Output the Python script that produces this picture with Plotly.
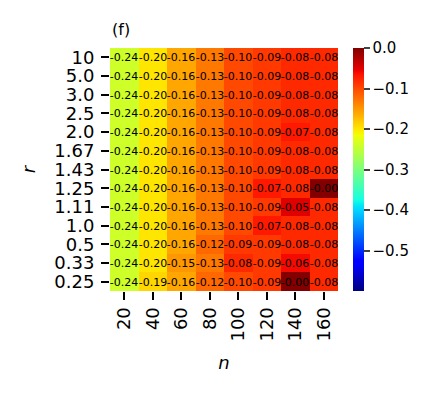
import numpy as np
import plotly.graph_objects as go

# heatmap data, rows listed top to bottom
n_values = ['20', '40', '60', '80', '100', '120', '140', '160']
r_labels = ['10', '5.0', '3.0', '2.5', '2.0', '1.67', '1.43', '1.25', '1.11', '1.0', '0.5', '0.33', '0.25']

row_10 = [-0.24, -0.20, -0.16, -0.13, -0.10, -0.09, -0.08, -0.08]
row_5 = [-0.24, -0.20, -0.16, -0.13, -0.10, -0.09, -0.08, -0.08]
row_3 = [-0.24, -0.20, -0.16, -0.13, -0.10, -0.09, -0.08, -0.08]
row_2_5 = [-0.24, -0.20, -0.16, -0.13, -0.10, -0.09, -0.08, -0.08]
row_2 = [-0.24, -0.20, -0.16, -0.13, -0.10, -0.09, -0.07, -0.08]
row_1_67 = [-0.24, -0.20, -0.16, -0.13, -0.10, -0.09, -0.08, -0.08]
row_1_43 = [-0.24, -0.20, -0.16, -0.13, -0.10, -0.09, -0.08, -0.08]
row_1_25 = [-0.24, -0.20, -0.16, -0.13, -0.10, -0.07, -0.08, -0.002]
row_1_11 = [-0.24, -0.20, -0.16, -0.13, -0.10, -0.09, -0.05, -0.08]
row_1 = [-0.24, -0.20, -0.16, -0.13, -0.10, -0.07, -0.08, -0.08]
row_0_5 = [-0.24, -0.20, -0.16, -0.12, -0.09, -0.09, -0.08, -0.08]
row_0_33 = [-0.24, -0.20, -0.15, -0.13, -0.08, -0.09, -0.06, -0.08]
row_0_25 = [-0.24, -0.19, -0.16, -0.12, -0.10, -0.09, -0.002, -0.08]

z = [row_10, row_5, row_3, row_2_5, row_2, row_1_67, row_1_43,
     row_1_25, row_1_11, row_1, row_0_5, row_0_33, row_0_25]
labels = [[f"{v:.2f}" for v in row] for row in z]

zmin, zmax = -0.6, 0.0
cbar_ticks = [0.0, -0.1, -0.2, -0.3, -0.4, -0.5]

fontFamily = 'DejaVu Sans'
tickSize = 18


# matplotlib style jet colormap
def jet(t):
    red = [(0, 0), (0.35, 0), (0.66, 1), (0.89, 1), (1, 0.5)]
    green = [(0, 0), (0.125, 0), (0.375, 1), (0.64, 1), (0.91, 0), (1, 0)]
    blue = [(0, 0.5), (0.11, 1), (0.34, 1), (0.65, 0), (1, 0)]
    out = []
    for seg in (red, green, blue):
        xs, ys = zip(*seg)
        out.append(int(round(255 * np.interp(t, xs, ys))))
    return 'rgb({},{},{})'.format(*out)


stops = sorted(set([0, 0.11, 0.125, 0.34, 0.35, 0.375, 0.64, 0.65, 0.66, 0.89, 0.91, 1]))
jet_scale = [[s, jet(s)] for s in stops]

fig = go.Figure()
fig.add_trace(go.Heatmap(
    z=z,
    x=n_values,
    y=r_labels,
    text=labels,
    texttemplate='%{text}',
    textfont=dict(size=11, color='black', family=fontFamily),
    colorscale=jet_scale,
    zmin=zmin,
    zmax=zmax,
    colorbar=dict(
        x=1.066,
        xanchor='left',
        thickness=11,
        len=1.0,
        y=0.5,
        ypad=0,
        xpad=0,
        outlinewidth=0,
        tickvals=cbar_ticks,
        tickformat='.1f',
        ticks='outside',
        ticklen=6,
        tickwidth=1.5,
        tickfont=dict(size=15, color='black', family=fontFamily),
    ),
))

fig.update_xaxes(
    type='category',
    tickmode='array',
    tickvals=n_values,
    ticktext=n_values,
    ticks='outside',
    ticklen=8,
    tickwidth=1.5,
    tickcolor='black',
    tickangle=-90,
    tickfont=dict(size=tickSize, color='black', family=fontFamily),
    title=dict(text='<i>n</i>', font=dict(size=tickSize, color='black', family=fontFamily), standoff=15),
    showline=False,
    showgrid=False,
    zeroline=False,
)
fig.update_yaxes(
    type='category',
    autorange='reversed',
    tickmode='array',
    tickvals=r_labels,
    ticktext=r_labels,
    ticks='outside',
    ticklen=8,
    tickwidth=1.5,
    tickcolor='black',
    ticklabelstandoff=3,
    tickfont=dict(size=tickSize, color='black', family=fontFamily),
    title=dict(text='<i>r</i>', font=dict(size=tickSize, color='black', family=fontFamily), standoff=14),
    showline=False,
    showgrid=False,
    zeroline=False,
)

fig.add_annotation(
    text='(f)',
    xref='paper', yref='paper',
    x=0, y=1,
    xanchor='left', yanchor='bottom',
    yshift=7,
    showarrow=False,
    font=dict(size=16, color='black', family=fontFamily),
)

# page body adds 8px offset, so margins are reduced on top/left
fig.update_layout(
    width=439,
    height=395,
    margin=dict(l=102, r=109, t=40, b=112, autoexpand=False),
    plot_bgcolor='white',
    paper_bgcolor='white',
    font=dict(family=fontFamily, color='black'),
)

fig.write_html("out.html")
